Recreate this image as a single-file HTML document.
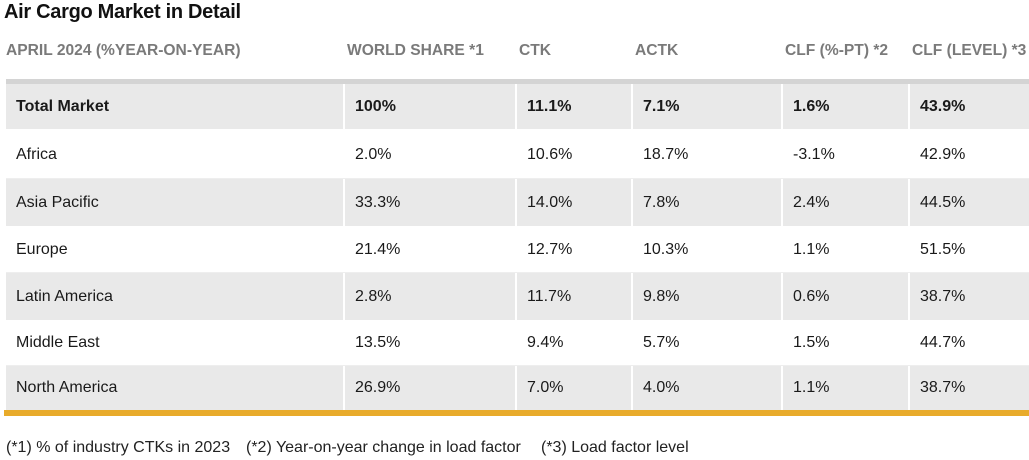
<!DOCTYPE html>
<html><head><meta charset="utf-8"><style>
body{margin:0;width:1029px;height:460px;background:#fff;font-family:"Liberation Sans",Arial,sans-serif;position:relative;overflow:hidden}
.a{position:absolute}
.t{position:absolute;left:4px;top:1px;font-size:20px;font-weight:bold;color:#111;letter-spacing:-0.3px}
.h{position:absolute;top:42px;font-size:15.6px;font-weight:bold;color:#7a7a7a;white-space:nowrap}
.c{position:absolute;font-size:16px;color:#1a1a1a;white-space:nowrap;line-height:20px}
.fn{position:absolute;top:439px;font-size:16px;color:#222;white-space:nowrap}
</style></head><body>
<div class="t">Air Cargo Market in Detail</div>
<div class="a" style="left:6px;top:79px;width:1023px;height:5px;background:#d4d4d4"></div>
<div class="a" style="left:4px;top:410px;width:1025px;height:6px;background:#e8ab2b"></div>
<div class="fn" style="left:6px">(*1) % of industry CTKs in 2023</div>
<div class="fn" style="left:246px">(*2) Year-on-year change in load factor</div>
<div class="fn" style="left:541px">(*3) Load factor level</div>
<script>
const headers=["APRIL 2024 (%YEAR-ON-YEAR)","WORLD SHARE *1","CTK","ACTK","CLF (%-PT) *2","CLF (LEVEL) *3"];
const regions=["Total Market","Africa","Asia Pacific","Europe","Latin America","Middle East","North America"];
const share=["100%","2.0%","33.3%","21.4%","2.8%","13.5%","26.9%"];
const ctk=["11.1%","10.6%","14.0%","12.7%","11.7%","9.4%","7.0%"];
const actk=["7.1%","18.7%","7.8%","10.3%","9.8%","5.7%","4.0%"];
const clfPt=["1.6%","-3.1%","2.4%","1.1%","0.6%","1.5%","1.1%"];
const clfLevel=["43.9%","42.9%","44.5%","51.5%","38.7%","44.7%","38.7%"];
const colX=[6,345,517,633,783,910,1029];
const rowY=[84,130,179,226,273,320,366,410];
const cols=[regions,share,ctk,actk,clfPt,clfLevel];
const colNames=["region","world-share","ctk","actk","clf-pt","clf-level"];
const b=document.body;
headers.forEach((h,i)=>{const d=document.createElement('div');d.className='h';d.style.left=(colX[i]+(i==0?0:2))+'px';d.textContent=h;


b.appendChild(d);});
regions.forEach((r,ri)=>{
 const y0=rowY[ri],y1=rowY[ri+1];
 const gray=(ri%2==0);
 for(let ci=0;ci<6;ci++){
  const x0=colX[ci],x1=colX[ci+1];
  if(gray){const bg=document.createElement('div');bg.className='a';
   bg.style.cssText=`left:${x0}px;top:${y0}px;width:${x1-x0-(ci<5?2:0)}px;height:${y1-y0-(ri==0?1:0)}px;background:#e9e9e9`;
   
   
   b.appendChild(bg);}
  const t=document.createElement('div');t.className='c';
  t.style.left=(x0+10)+'px';t.style.top=((y0+y1)/2-10)+'px';
  if(ri==0)t.style.fontWeight='bold';
  t.textContent=cols[ci][ri];
  
  
  b.appendChild(t);
 }
 if(!gray){const l=document.createElement('div');l.className='a';
  l.style.cssText=`left:6px;top:${y1-1}px;width:1023px;height:1px;background:#eee`;
  
  
  b.appendChild(l);}
});
</script>
</body></html>
